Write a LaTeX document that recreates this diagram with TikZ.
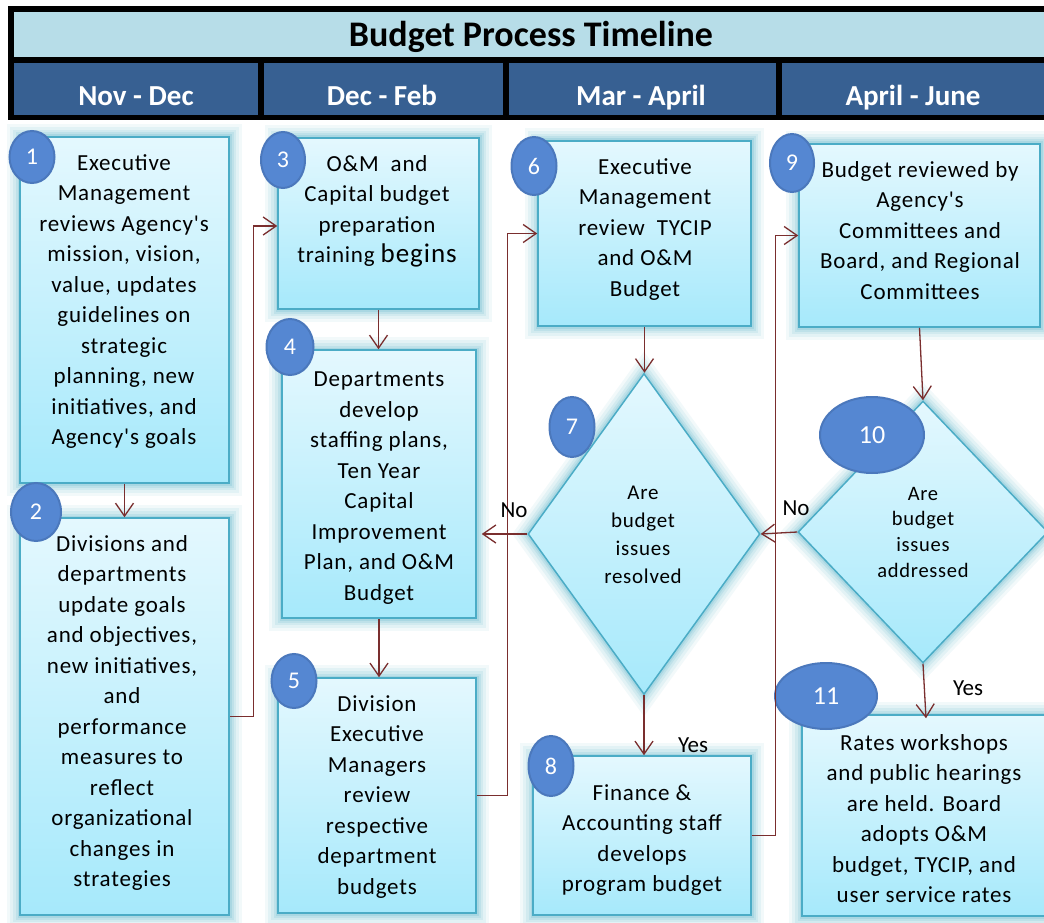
\documentclass[tikz,border=0pt]{standalone}
\usepackage{fontspec}
\setmainfont{Carlito}[Ligatures=TeXOff]
\newfontfamily\spacedfont{Carlito}[Ligatures=TeXOff,LetterSpace=3.5]
\usetikzlibrary{arrows.meta,shapes.geometric}
\definecolor{arrowc}{HTML}{7A2E2E}
\definecolor{glowc}{HTML}{4BACC6}
\definecolor{edgec}{HTML}{4BACC6}
\definecolor{topc}{HTML}{E4F8FE}
\definecolor{botc}{HTML}{A6E9FB}
\definecolor{circfill}{HTML}{5587D2}
\definecolor{circedge}{HTML}{4B78BC}
\definecolor{titlebg}{HTML}{B7DDE8}
\definecolor{colbg}{HTML}{376092}
\tikzset{
  glow/.style={preaction={draw=glowc,line width=26pt,opacity=0.07},
               preaction={draw=glowc,line width=20pt,opacity=0.09},
               preaction={draw=glowc,line width=14pt,opacity=0.11},
               preaction={draw=glowc,line width=9pt,opacity=0.14},
               preaction={draw=glowc,line width=5pt,opacity=0.18}},
  stepbox/.style={rectangle,draw=edgec,line width=1.5pt,top color=topc,bottom color=botc,inner sep=0,glow},
  decbox/.style={diamond,draw=edgec,line width=1.5pt,top color=topc,bottom color=botc,inner sep=0,glow},
  numc/.style={ellipse,fill=circfill,draw=circedge,line width=2pt,text=white,inner sep=0,font=\fontsize{24}{24}\selectfont},
  boxtext/.style={align=center,inner sep=0,anchor=north,font=\spacedfont\fontsize{23}{30.5}\selectfont},
  dectext/.style={align=center,inner sep=0,anchor=north},
  conn/.style={draw=arrowc,line width=1.3pt,-{Straight Barb[length=13pt,width=18pt,line width=1.3pt]}},
  lbl/.style={inner sep=0,anchor=base,font=\fontsize{23}{23}\selectfont},
  colhead/.style={inner sep=0,anchor=base,text=white,font=\fontsize{29}{29}\selectfont\bfseries},
}
\begin{document}
\begin{tikzpicture}[x=1pt,y=-1pt]
\useasboundingbox (0,0) rectangle (1044,923);
\fill[white] (0,0) rectangle (1044,923);
% header
\fill[black] (8,6) rectangle (1050,120);
\fill[titlebg] (14,12) rectangle (1050,57);
\fill[colbg] (14,63) rectangle (258,115);
\fill[colbg] (264,63) rectangle (503,115);
\fill[colbg] (509,63) rectangle (776,115);
\fill[colbg] (782,63) rectangle (1050,115);
\node[inner sep=0,anchor=base,font=\fontsize{36}{36}\selectfont\bfseries] (title) at (531,47) {Budget Process Timeline};
\node[colhead] (h1) at (136,106) {Nov - Dec};
\node[colhead] (h2) at (382,106) {Dec - Feb};
\node[colhead] (h3) at (641,106) {Mar - April};
\node[colhead] (h4) at (913,106) {April - June};
% boxes
\node[stepbox,minimum width=209pt,minimum height=346pt] (b1) at (124.5,310) {};
\node[stepbox,minimum width=209pt,minimum height=397pt] (b2) at (124.5,716.5) {};
\node[stepbox,minimum width=201pt,minimum height=171pt] (b3) at (378.5,223.5) {};
\node[stepbox,minimum width=194pt,minimum height=268pt] (b4) at (379,484) {};
\node[stepbox,minimum width=198pt,minimum height=235pt] (b5) at (377,795.5) {};
\node[stepbox,minimum width=213pt,minimum height=185pt] (b6) at (644.5,233.5) {};
\node[decbox,minimum width=232pt,minimum height=321pt] (d7) at (644,534) {};
\node[stepbox,minimum width=218pt,minimum height=159pt] (b8) at (642,835.5) {};
\node[stepbox,minimum width=241pt,minimum height=183pt] (b9) at (919.5,235.5) {};
\node[decbox,minimum width=250pt,minimum height=262pt] (d10) at (923,532) {};
\node[stepbox,minimum width=244pt,minimum height=201pt] (b11) at (924,815.5) {};
% texts
\node[boxtext] (t1) at (124,154) {Executive\\Management\\reviews Agency's\\mission, vision,\\value, updates\\guidelines on\\strategic\\planning, new\\initiatives, and\\Agency's goals};
\node[boxtext] (t2) at (122,535) {Divisions and\\departments\\update goals\\and objectives,\\new initiatives,\\and\\performance\\measures to\\reflect\\organizational\\changes in\\strategies};
\node[boxtext] (t3) at (377,155) {O\&M\ \ and\\Capital budget\\preparation\\training {\fontsize{27}{30.5}\selectfont begins}};
\node[boxtext] (t4) at (379,372) {Departments\\develop\\staffing plans,\\Ten Year\\Capital\\Improvement\\Plan, and O\&M\\Budget};
\node[boxtext] (t5) at (377,695) {Division\\Executive\\Managers\\review\\respective\\department\\budgets};
\node[boxtext] (t6) at (645,158) {Executive\\Management\\review\ \ TYCIP\\and O\&M\\Budget};
\node[dectext,font=\spacedfont\fontsize{21}{28}\selectfont] (t7) at (643,486) {Are\\budget\\issues\\resolved};
\node[boxtext] (t8) at (642,784) {Finance \&\\Accounting staff\\develops\\program budget};
\node[boxtext] (t9) at (920,161) {Budget reviewed by\\Agency's\\Committees and\\Board, and Regional\\Committees};
\node[dectext,font=\spacedfont\fontsize{20.5}{25.6}\selectfont] (t10) at (923,487) {Are\\budget\\issues\\addressed};
\node[boxtext] (t11) at (924,734) {Rates workshops\\and public hearings\\are held. Board\\adopts O\&M\\budget, TYCIP, and\\user service rates};
% number badges
\node[numc,minimum width=45pt,minimum height=52pt] (n1) at (32,157) {1};
\node[numc,minimum width=50pt,minimum height=58pt] (n2) at (36,512) {2};
\node[numc,minimum width=44pt,minimum height=56pt] (n3) at (283,160) {3};
\node[numc,minimum width=47pt,minimum height=56pt] (n4) at (290,347) {4};
\node[numc,minimum width=45pt,minimum height=54pt] (n5) at (294,681) {5};
\node[numc,minimum width=45pt,minimum height=58pt] (n6) at (534,166) {6};
\node[numc,minimum width=45pt,minimum height=60pt] (n7) at (572,427) {7};
\node[numc,minimum width=45pt,minimum height=60pt] (n8) at (551,766) {8};
\node[numc,minimum width=44pt,minimum height=58pt] (n9) at (792,163) {9};
\node[numc,minimum width=104pt,minimum height=76pt,font=\fontsize{26}{26}\selectfont] (n10) at (872,435) {10};
\node[numc,minimum width=102pt,minimum height=66pt,font=\fontsize{26}{26}\selectfont] (n11) at (826,696) {11};
% connectors
\draw[conn] (b1.south) -- (b2.north);
\draw[conn] (b2.east) -- ++(24,0) |- ([yshift=-2.5pt]b3.west);
\draw[conn] (b3.south) -- (b3.south |- b4.north);
\draw[conn] (b4.south) -- (b4.south |- b5.north);
\draw[conn] (b5.east) -- ++(31,0) |- (b6.west);
\draw[conn] (b6.south) -- (b6.south |- d7.north);
\draw[conn] (d7.west) -- ([xshift=5pt]d7.west -| b4.east);
\draw[conn] (d7.south) -- (d7.south |- b8.north);
\draw[conn] (b8.east) -- ++(24,0) |- (b9.west);
\draw[conn] (b9.south) -- (d10.north);
\draw[conn] (d10.west) -- (d7.east);
\draw[conn] (d10.south) -- ([xshift=3pt,yshift=-4pt]d10.south |- b11.north);
% labels
\node[lbl] (no1) at (514,517) {No};
\node[lbl] (no2) at (796,515) {No};
\node[lbl] (yes1) at (693,752) {Yes};
\node[lbl] (yes2) at (968,695) {Yes};
\end{tikzpicture}
\end{document}
